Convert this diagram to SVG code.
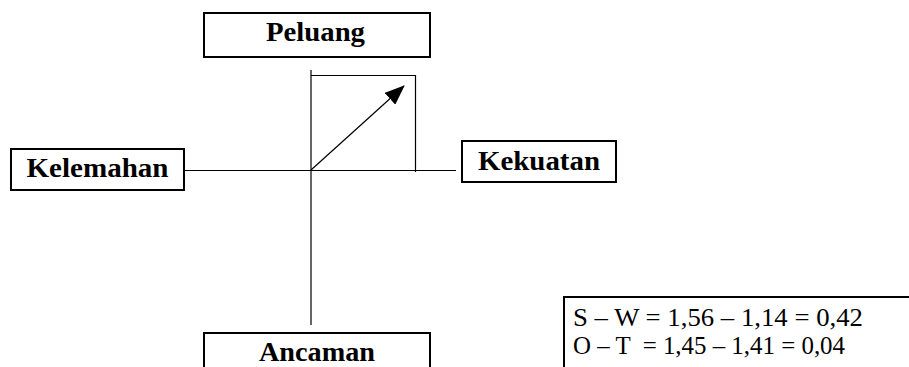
<svg xmlns="http://www.w3.org/2000/svg" width="909" height="367" viewBox="0 0 909 367">
  <style>
    .box { fill: #fff; stroke: #000; stroke-width: 2; }
    .label { font-family: "Liberation Serif", "Times New Roman", serif; font-weight: bold; font-size: 28px; fill: #000; }
    .calc { font-family: "Liberation Serif", "Times New Roman", serif; font-size: 26px; fill: #000; white-space: pre; }
    .axis { stroke: #000; stroke-width: 1.2; fill: none; }
  </style>
  <defs>
    <marker id="tip" viewBox="0 0 20 16" refX="19" refY="8" markerWidth="20" markerHeight="16" markerUnits="userSpaceOnUse" orient="auto">
      <path d="M0,0 L20,8 L0,16 z" fill="#000"/>
    </marker>
  </defs>

  <!-- axes, quadrant frame and the position vector -->
  <g id="connectors">
    <line class="axis" x1="184" y1="170.5" x2="456" y2="170.5"/>
    <line class="axis" x1="311" y1="70" x2="311" y2="325"/>
    <polyline class="axis" points="311,75.5 415.5,75.5 415.5,172"/>
    <line class="axis" x1="311" y1="170" x2="404" y2="86" marker-end="url(#tip)"/>
  </g>

  <g id="peluang">
    <rect class="box" x="204" y="13" width="226" height="44"/>
    <text class="label" x="266" y="41" textLength="99" lengthAdjust="spacingAndGlyphs">Peluang</text>
  </g>

  <g id="kelemahan">
    <rect class="box" x="11" y="149" width="173" height="41"/>
    <text class="label" x="26.5" y="177" textLength="142" lengthAdjust="spacingAndGlyphs">Kelemahan</text>
  </g>

  <g id="kekuatan">
    <rect class="box" x="462" y="141" width="154" height="41"/>
    <text class="label" x="478" y="170" textLength="122" lengthAdjust="spacingAndGlyphs">Kekuatan</text>
  </g>

  <g id="ancaman">
    <rect class="box" x="204" y="333" width="226" height="44"/>
    <text class="label" x="259" y="361" textLength="116" lengthAdjust="spacingAndGlyphs">Ancaman</text>
  </g>

  <g id="hasil">
    <rect class="box" x="564" y="297" width="360" height="80"/>
    <text class="calc" x="573" y="326" textLength="290" lengthAdjust="spacingAndGlyphs">S – W = 1,56 – 1,14 = 0,42</text>
    <text class="calc" x="573" y="354" textLength="272" lengthAdjust="spacingAndGlyphs" xml:space="preserve">O – T  = 1,45 – 1,41 = 0,04</text>
  </g>
</svg>
